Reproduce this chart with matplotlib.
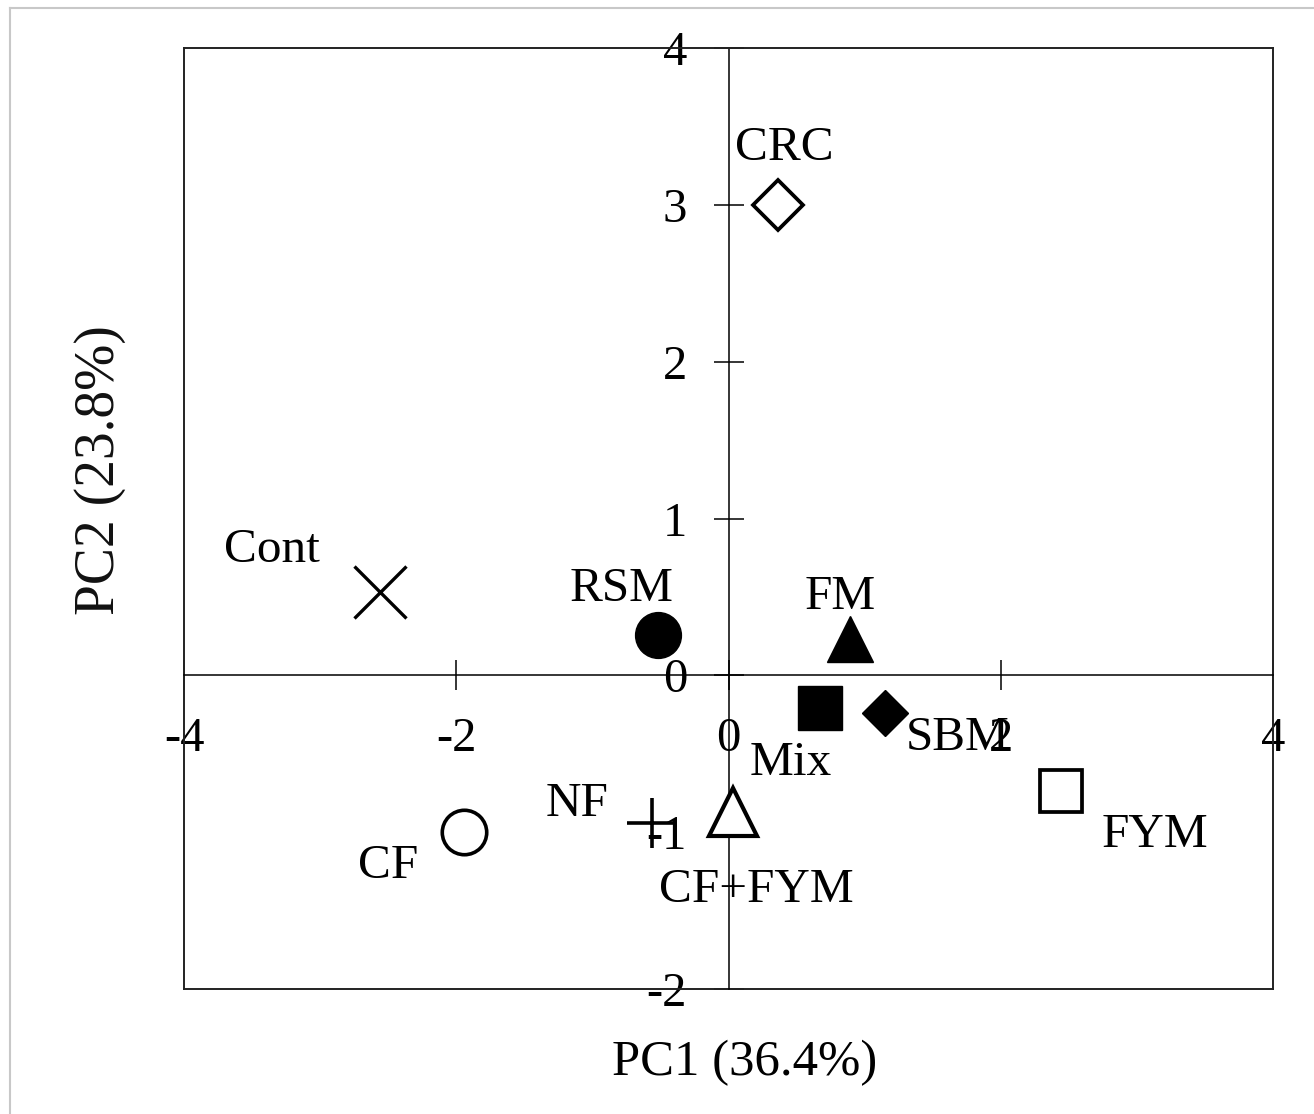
import matplotlib
matplotlib.use("Agg")
import matplotlib.pyplot as plt
from matplotlib.lines import Line2D

plt.rcParams['font.family'] = ['Liberation Serif', 'DejaVu Serif']
plt.rcParams['axes.unicode_minus'] = False

# PCA scores
treatments = ['CRC', 'Cont', 'RSM', 'FM', 'Mix', 'SBM', 'FYM', 'CF+FYM', 'NF', 'CF']
pc1 = [0.36, -2.56, -0.52, 0.89, 0.67, 1.15, 2.44, 0.03, -0.56, -1.94]
pc2 = [3.00, 0.53, 0.26, 0.23, -0.21, -0.24, -0.74, -0.87, -0.94, -1.00]

xticks = [-4, -2, 0, 2, 4]
yticks = [-2, -1, 0, 1, 2, 3, 4]

# marker, size, filled, edge width, label offset (points)
style = {
    'CRC':    ('D', 25, False, 2.7, (5, 32)),
    'Cont':   ('x', 37, False, 2.4, (-78, 22)),
    'RSM':    ('o', 33, True, 1.0, (-26, 24)),
    'FM':     ('^', 33, True, 1.0, (-7, 22)),
    'Mix':    ('s', 31, True, 1.0, (-21, -48)),
    'SBM':    ('D', 23, True, 1.0, (52, -27)),
    'FYM':    ('s', 30, False, 2.7, (68, -40)),
    'CF+FYM': ('^', 35, False, 3.0, (17, -65)),
    'NF':     ('+', 36, False, 2.6, (-54, 5)),
    'CF':     ('o', 32, False, 2.6, (-55, -33)),
}

fig = plt.figure(figsize=(13.14, 11.14), dpi=100)
ax = fig.add_axes([184 / 1314, 1 - 989 / 1114, (1273 - 184) / 1314, (989 - 48) / 1114])

ax.set_xlim(-4, 4)
ax.set_ylim(-2, 4)

for sp in ['top', 'right']:
    ax.spines[sp].set_linewidth(1.4)
    ax.spines[sp].set_color('#222222')
ax.spines['left'].set_position(('data', 0))
ax.spines['bottom'].set_position(('data', 0))
ax.spines['left'].set_linewidth(1.1)
ax.spines['bottom'].set_linewidth(1.1)

# outer frame left / bottom edges
ax.plot([0, 0], [0, 1], transform=ax.transAxes, color='#222222', lw=1.4, clip_on=False)
ax.plot([0, 1], [0, 0], transform=ax.transAxes, color='#222222', lw=1.4, clip_on=False)

ax.set_xticks(xticks)
ax.set_yticks(yticks)
ax.set_xticklabels([str(v) for v in xticks])
ax.set_yticklabels([str(v) for v in yticks])
ax.tick_params(direction='inout', length=21.6, width=1.1, labelsize=35, pad=19)

for name, x, y in zip(treatments, pc1, pc2):
    m, ms, filled, mew, off = style[name]
    ax.plot(x, y, marker=m, markersize=ms, markeredgewidth=mew,
            markerfacecolor='black' if filled else 'white',
            markeredgecolor='black', linestyle='none', zorder=5, clip_on=False)
    ax.annotate(name, (x, y), xytext=off, textcoords='offset points',
                ha='center', va='baseline', fontsize=35.5, zorder=6)

fig.text(745 / 1314, 1 - 1075 / 1114, 'PC1 (36.4%)', ha='center', va='baseline', fontsize=36.5)
fig.text(100 / 1314, 1 - 470 / 1114, 'PC2 (23.8%)', ha='center', va='center',
         rotation=90, fontsize=40, color='#111111')

# light border of the original image
fig.add_artist(Line2D([10 / 1314, 10 / 1314], [0, 1 - 8 / 1114], color='#c8c8c8', lw=1.5))
fig.add_artist(Line2D([10 / 1314, 1], [1 - 8 / 1114, 1 - 8 / 1114], color='#c8c8c8', lw=1.5))

fig.savefig('out.png', dpi=100)
